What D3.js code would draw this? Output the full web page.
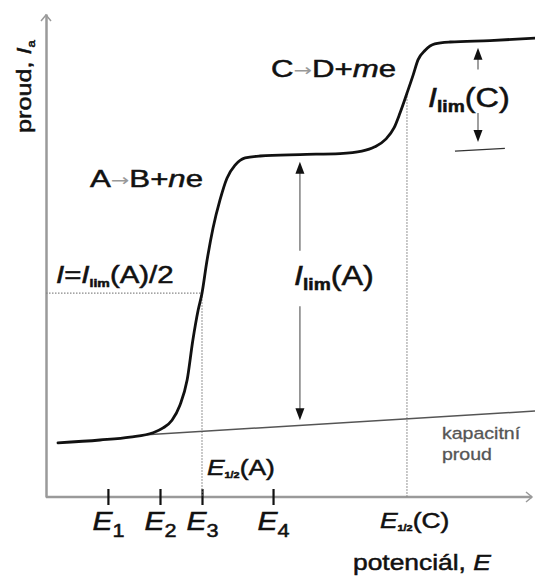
<!DOCTYPE html>
<html><head><meta charset="utf-8">
<script src="https://cdn.jsdelivr.net/npm/d3@7"></script>
<style>
html,body{margin:0;padding:0;background:#fff;}
svg{display:block;font-family:"Liberation Sans",Arial,sans-serif;}
</style></head>
<body>
<script>
// ---- data (potential E in arbitrary units, current I in arbitrary units) ----
const curveE = [0.25,1.125,1.75,2.23,2.44,2.625,2.79,2.94,3.06,3.17,3.25,3.35,3.48,3.625,3.77,3.94,4.15,4.46,5.29,6.125,6.58,6.85,7.08,7.25,7.375,7.52,7.65,7.75,7.9,8.1,8.42,9.25,10.19];
const curveI = [1.12,1.18,1.24,1.33,1.43,1.59,1.90,2.42,3.25,3.87,4.22,4.87,5.57,6.15,6.60,6.87,7.02,7.06,7.09,7.11,7.16,7.25,7.41,7.64,7.95,8.36,8.74,9.05,9.25,9.38,9.42,9.45,9.50];
const baseE = [2.1, 10.19];
const baseI = [1.29, 1.78];
const tickE = [1.29, 2.375, 3.25, 4.73];
const tickSub = ["1","2","3","4"];
const halfE_A = 3.25, halfI_A = 4.22;
const halfE_C = 7.52, halfI_C = 8.36;
const limA_E = 5.29, limA_top = 6.94, limA_bot = 1.59;
const limC_E = 9.0, limC_top = 9.30, limC_bot = 7.35;
const limC_bar = [[8.52, 7.16],[9.56, 7.22]];

const W = 535, H = 577;
const x = d3.scaleLinear().domain([0,10]).range([46,526]);
const y = d3.scaleLinear().domain([0,10]).range([497,14]);
const SX = 1.2;

const svg = d3.select("body").append("svg").attr("width",W).attr("height",H);

// axes
const axisCol = "#9a9a9a";
const xAxis = d3.axisBottom(x).tickValues(tickE).tickSize(0).tickFormat("");
const gx = svg.append("g").attr("transform",`translate(0,${y(0)})`).call(xAxis);
gx.select(".domain").attr("d",`M${x(0)},0H${W-3}`).attr("stroke",axisCol).attr("stroke-width",2.5);
gx.selectAll(".tick line").attr("y1",-8).attr("y2",8).attr("stroke","#111").attr("stroke-width",2.2);
gx.selectAll(".tick text").remove();
gx.selectAll(".tick").each(function(d,i){
  const t = d3.select(this).append("text").attr("transform",`translate(0,33) scale(${SX},1)`)
    .attr("text-anchor","middle").attr("fill","#111").attr("font-size",25)
    .attr("stroke","#111").attr("stroke-width",0.5);
  t.append("tspan").attr("font-style","italic").text("E");
  t.append("tspan").attr("font-size",18).attr("dy",7).text(tickSub[i]);
});
// x arrow
svg.append("path").attr("d",`M${W-9},${y(0)-5}L${W-3},${y(0)}L${W-9},${y(0)+5}`)
  .attr("fill","none").attr("stroke",axisCol).attr("stroke-width",1.5);

const yAxis = d3.axisLeft(y).tickValues([]).tickSizeOuter(0);
const gy = svg.append("g").attr("transform",`translate(${x(0)},0)`).call(yAxis);
gy.select(".domain").attr("stroke",axisCol).attr("stroke-width",2.5);
svg.append("path").attr("d",`M${x(0)-5},${y(10)+7}L${x(0)},${y(10)+1}L${x(0)+5},${y(10)+7}`)
  .attr("fill","none").attr("stroke",axisCol).attr("stroke-width",1.5);

// dotted guide lines
const dot = {stroke:"#888","stroke-width":1.2,"stroke-dasharray":"1.5,1.5"};
function dline(x1,y1,x2,y2){
  const l = svg.append("line").attr("x1",x1).attr("y1",y1).attr("x2",x2).attr("y2",y2);
  for (const k in dot) l.attr(k,dot[k]);
}
dline(x(0), y(halfI_A), x(halfE_A), y(halfI_A));
dline(x(halfE_A), y(halfI_A), x(halfE_A), y(0));
dline(x(halfE_C), y(halfI_C), x(halfE_C), y(0));

// capacitive current baseline
svg.append("path").datum(baseE.map((e,i)=>[e,baseI[i]]))
  .attr("d",d3.line().x(d=>x(d[0])).y(d=>y(d[1])))
  .attr("fill","none").attr("stroke","#555").attr("stroke-width",1.5);

// polarographic wave
svg.append("path").datum(curveE.map((e,i)=>[e,curveI[i]]))
  .attr("d",d3.line().x(d=>x(d[0])).y(d=>y(d[1])).curve(d3.curveMonotoneX))
  .attr("fill","none").attr("stroke","#111").attr("stroke-width",2.8).attr("stroke-linecap","round");

// arrows
function arrow(xe, yFrom, yTo){
  const x0 = x(xe), y0 = y(yFrom), y1 = y(yTo);
  const dir = y1 < y0 ? -1 : 1;
  svg.append("line").attr("x1",x0).attr("x2",x0).attr("y1",y0).attr("y2",y1 - dir*10)
    .attr("stroke","#777").attr("stroke-width",1.4);
  svg.append("path").attr("d",`M${x0},${y1}L${x0-4.5},${y1-dir*12}L${x0+4.5},${y1-dir*12}Z`).attr("fill","#111");
}
arrow(limA_E, 5.10, limA_top);
arrow(limA_E, 3.95, limA_bot);
arrow(limC_E, 8.85, limC_top);
arrow(limC_E, 7.95, limC_bot);
svg.append("line").attr("x1",x(limC_bar[0][0])).attr("y1",y(limC_bar[0][1]))
  .attr("x2",x(limC_bar[1][0])).attr("y2",y(limC_bar[1][1])).attr("stroke","#333").attr("stroke-width",1.3);

// text helper
function label(px, py, parts, opt={}){
  const t = svg.append("text").attr("transform",`translate(${px},${py}) ${opt.rot?`rotate(${opt.rot})`:""} scale(${opt.sx||SX},1)`)
    .attr("font-size",opt.size||22).attr("fill",opt.fill||"#111").attr("text-anchor",opt.anchor||"start")
    .attr("stroke",opt.fill||"#111").attr("stroke-width",opt.sw!=null?opt.sw:0.5);
  parts.forEach(p=>{
    const s = t.append("tspan").text(p.t);
    if (p.i) s.attr("font-style","italic");
    if (p.s) s.attr("font-size",p.s);
    if (p.dy) s.attr("dy",p.dy);
    if (p.f) s.attr("fill",p.f).attr("stroke","none");
    if (p.ff) s.attr("font-family",p.ff);
    if (p.b) s.attr("font-weight","bold");
  });
  return t;
}
label(90,187,[{t:"A"},{t:"→",s:17,f:"#999",ff:"DejaVu Sans",dy:-1},{t:"B+",dy:1},{t:"n",i:1},{t:"e"}],{size:24,sx:1.3});
label(271,77,[{t:"C"},{t:"→",s:17,f:"#999",ff:"DejaVu Sans",dy:-1},{t:"D+",dy:1},{t:"m",i:1},{t:"e"}],{size:24,sx:1.3});
label(294,285,[{t:"I",i:1},{t:"lim",s:16,b:1,dy:5},{t:"(A)",dy:-5}],{size:27});
label(428,107,[{t:"I",i:1},{t:"lim",s:16,b:1,dy:5},{t:"(C)",dy:-5}],{size:27});
label(56,283,[{t:"I",i:1},{t:"="},{t:"I",i:1},{t:"lim",s:11,b:1,dy:4},{t:"(A)/2",dy:-4}],{size:23,sx:1.28});
label(207,475,[{t:"E",i:1},{t:"1/2",s:9,b:1,dy:3},{t:"(A)",dy:-3}],{size:22});
label(380,528,[{t:"E",i:1},{t:"1/2",s:9,b:1,dy:3},{t:"(C)",dy:-3}],{size:22});
label(353,570,[{t:"potenciál, "},{t:"E",i:1}],{size:22});
label(442,439,[{t:"kapacitní"}],{size:17,fill:"#555",sx:1.15,sw:0.3});
label(442,460,[{t:"proud"}],{size:17,fill:"#555",sx:1.15,sw:0.3});
label(31,133,[{t:"proud, "},{t:"I",i:1},{t:"a",s:11,dy:4}],{size:21,rot:-90,sx:1.2});
</script>
</body></html>
